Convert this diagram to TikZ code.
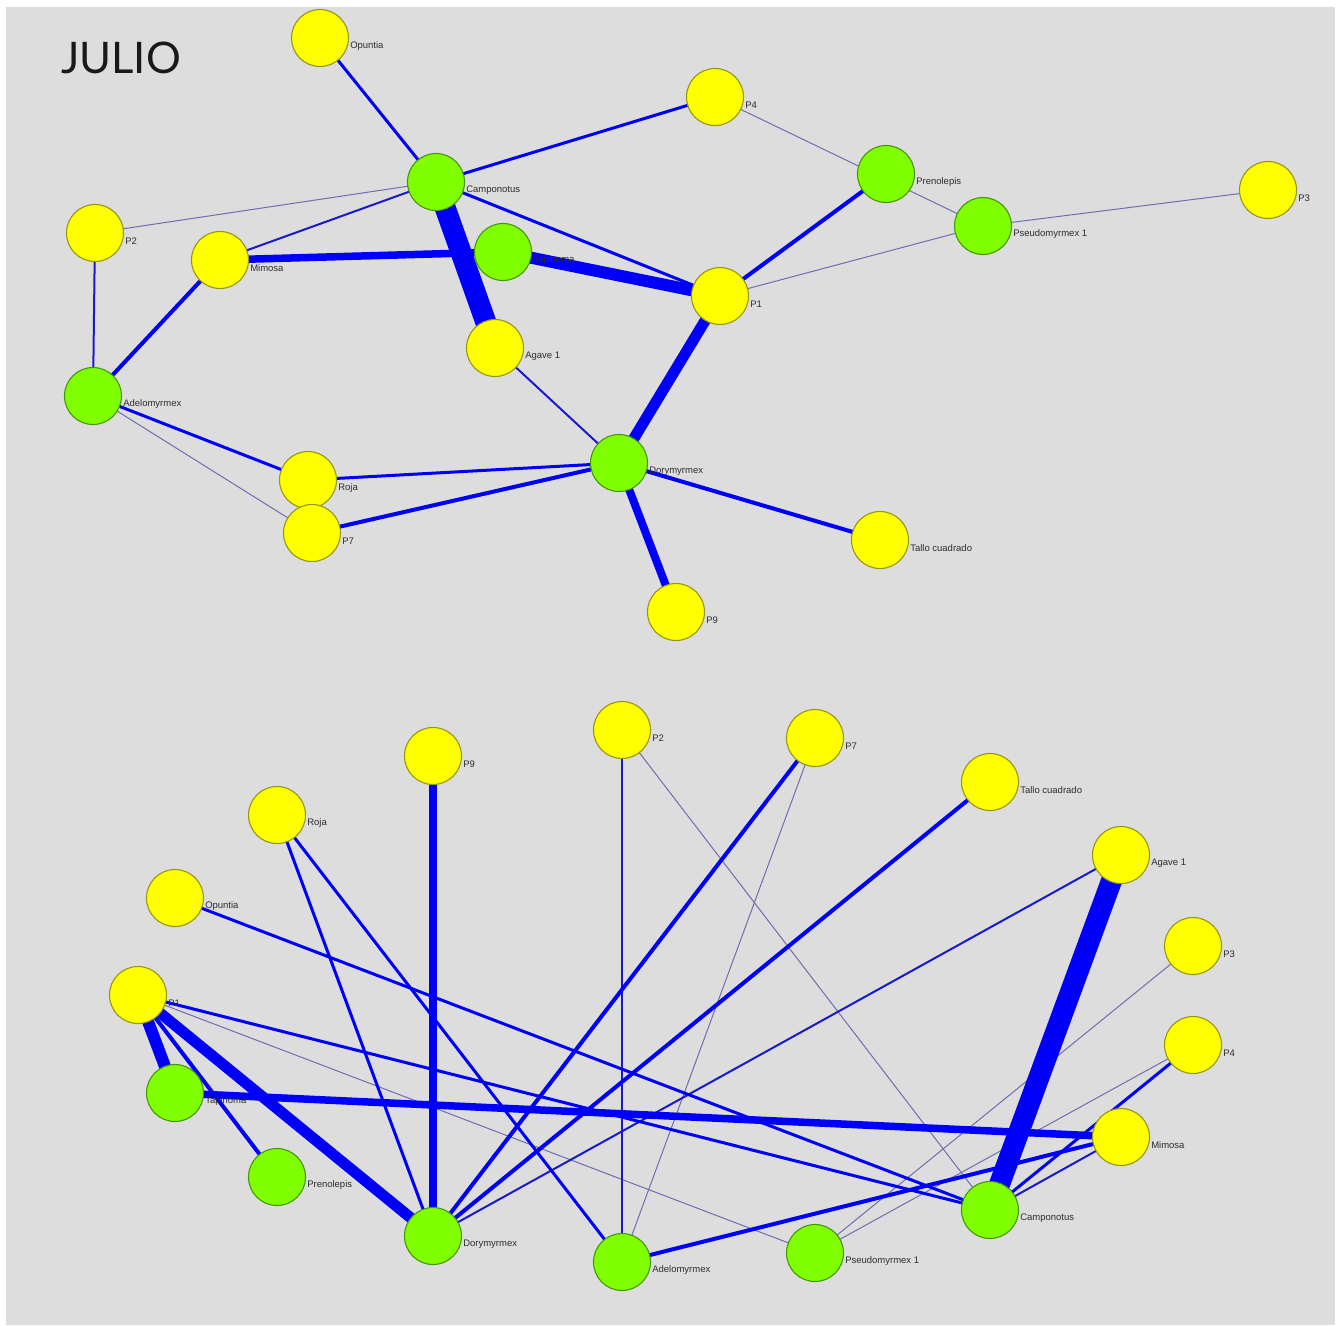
\documentclass[tikz,border=0pt]{standalone}
\usepackage{fontspec}
\setmainfont{Liberation Sans}
\newfontfamily\titlefont{Lato}
\definecolor{bggray}{RGB}{221,221,221}
\definecolor{ylw}{RGB}{255,255,0}
\definecolor{ylwline}{RGB}{150,150,20}
\definecolor{grn}{RGB}{128,255,0}
\definecolor{grnline}{RGB}{70,150,10}
\definecolor{edgeblue}{RGB}{0,0,250}
\definecolor{edgemid}{RGB}{25,25,205}
\definecolor{edgethin}{RGB}{110,110,175}
\definecolor{labgray}{RGB}{45,45,45}
\pgfdeclarelayer{bglayer}
\pgfdeclarelayer{edgelayer}
\pgfsetlayers{bglayer,edgelayer,main}
\tikzset{
  ynode/.style={circle,draw=ylwline,fill=ylw,line width=1.1pt,minimum size=57pt,inner sep=0pt},
  gnode/.style={circle,draw=grnline,fill=grn,line width=1.1pt,minimum size=57pt,inner sep=0pt},
  lab/.style={font=\fontsize{9.5}{10}\selectfont,text=labgray,inner sep=0pt,xshift=1pt,yshift=-8pt},
  ea/.style={draw=edgethin,line width=1pt},
  eb/.style={draw=edgemid,line width=2pt},
  ec/.style={draw=edgeblue,line width=3pt},
  ed/.style={draw=edgeblue,line width=4pt},
  eg/.style={draw=edgeblue,line width=7.5pt},
  eh/.style={draw=edgeblue,line width=8pt},
  ek/.style={draw=edgeblue,line width=11pt},
  el/.style={draw=edgeblue,line width=12pt},
  ex/.style={draw=edgeblue,line width=21pt},
}
\begin{document}
\begin{tikzpicture}[x=1pt,y=-1pt]
\begin{pgfonlayer}{bglayer}
\path[use as bounding box,fill=white] (0,0) rectangle (1343,1325);
\fill[bggray] (6,7) rectangle (1335,1325);
\end{pgfonlayer}
\node[font=\titlefont\fontsize{43.5}{44}\selectfont,text=black!90,anchor=center] (title) at (121,58) {JULIO};

% ---------- top network ----------
\node[ynode,label={[lab]east:Opuntia}] (tOp) at (320,38) {};
\node[ynode,label={[lab]east:P4}] (tP4) at (715,97) {};
\node[gnode,label={[lab]east:Camponotus}] (tCa) at (436,182) {};
\node[gnode,label={[lab]east:Prenolepis}] (tPr) at (886,174) {};
\node[ynode,label={[lab]east:P3}] (tP3) at (1268,190) {};
\node[gnode,label={[lab]east:Pseudomyrmex 1}] (tPs) at (983,226) {};
\node[ynode,label={[lab]east:P2}] (tP2) at (95,233) {};
\node[ynode,label={[lab]east:Mimosa}] (tMi) at (220,260) {};
\node[gnode,label={[lab]east:Tapinoma}] (tTa) at (503,252) {};
\node[ynode,label={[lab]east:P1}] (tP1) at (720,296) {};
\node[ynode,label={[lab]east:Agave 1}] (tAg) at (495,348) {};
\node[gnode,label={[lab]east:Adelomyrmex}] (tAd) at (93,396) {};
\node[gnode,label={[lab]east:Dorymyrmex}] (tDo) at (619,463) {};
\node[ynode,label={[lab]east:Roja}] (tRo) at (308,480) {};
\node[ynode,label={[lab]east:P7}] (tP7) at (312,533) {};
\node[ynode,label={[lab]east:Tallo cuadrado}] (tTc) at (880,540) {};
\node[ynode,label={[lab]east:P9}] (tP9) at (676,612) {};

% ---------- bottom network ----------
\node[ynode,label={[lab]east:P2}] (bP2) at (622,730) {};
\node[ynode,label={[lab]east:P7}] (bP7) at (815,738) {};
\node[ynode,label={[lab]east:P9}] (bP9) at (433,756) {};
\node[ynode,label={[lab]east:Tallo cuadrado}] (bTc) at (990,782) {};
\node[ynode,label={[lab]east:Roja}] (bRo) at (277,815) {};
\node[ynode,label={[lab]east:Agave 1}] (bAg) at (1121,855) {};
\node[ynode,label={[lab]east:Opuntia}] (bOp) at (175,898) {};
\node[ynode,label={[lab]east:P3}] (bP3) at (1193,946) {};
\node[ynode,label={[lab]east:P1}] (bP1) at (138,995) {};
\node[ynode,label={[lab]east:P4}] (bP4) at (1193,1045) {};
\node[gnode,label={[lab]east:Tapinoma}] (bTa) at (175,1093) {};
\node[ynode,label={[lab]east:Mimosa}] (bMi) at (1121,1137) {};
\node[gnode,label={[lab]east:Prenolepis}] (bPr) at (277,1177) {};
\node[gnode,label={[lab]east:Camponotus}] (bCa) at (990,1210) {};
\node[gnode,label={[lab]east:Dorymyrmex}] (bDo) at (433,1236) {};
\node[gnode,label={[lab]east:Pseudomyrmex 1}] (bPs) at (815,1253) {};
\node[gnode,label={[lab]east:Adelomyrmex}] (bAd) at (622,1262) {};

% ---------- edges (behind nodes) ----------
\begin{pgfonlayer}{edgelayer}
\foreach \p in {t,b}{
  \draw[ea] (\p P4.center) -- (\p Ps.center);
  \draw[ea] (\p Ca.center) -- (\p P2.center);
  \draw[ea] (\p Ps.center) -- (\p P3.center);
  \draw[ea] (\p Ps.center) -- (\p P1.center);
  \draw[ea] (\p Ad.center) -- (\p P7.center);
  \draw[eb] (\p Ca.center) -- (\p Mi.center);
  \draw[eb] (\p Ag.center) -- (\p Do.center);
  \draw[eb] (\p P2.center) -- (\p Ad.center);
  \draw[ec] (\p Op.center) -- (\p Ca.center);
  \draw[ec] (\p P4.center) -- (\p Ca.center);
  \draw[ec] (\p Ca.center) -- (\p P1.center);
  \draw[ec] (\p Ad.center) -- (\p Ro.center);
  \draw[ec] (\p Ro.center) -- (\p Do.center);
  \draw[ed] (\p Pr.center) -- (\p P1.center);
  \draw[ed] (\p Mi.center) -- (\p Ad.center);
  \draw[ed] (\p P7.center) -- (\p Do.center);
  \draw[ed] (\p Do.center) -- (\p Tc.center);
  \draw[eh] (\p Do.center) -- (\p P9.center);
  \draw[eg] (\p Mi.center) -- (\p Ta.center);
  \draw[el] (\p Ta.center) -- (\p P1.center);
  \draw[ek] (\p P1.center) -- (\p Do.center);
  \draw[ex] (\p Ca.center) -- (\p Ag.center);
}
\end{pgfonlayer}
\end{tikzpicture}
\end{document}
